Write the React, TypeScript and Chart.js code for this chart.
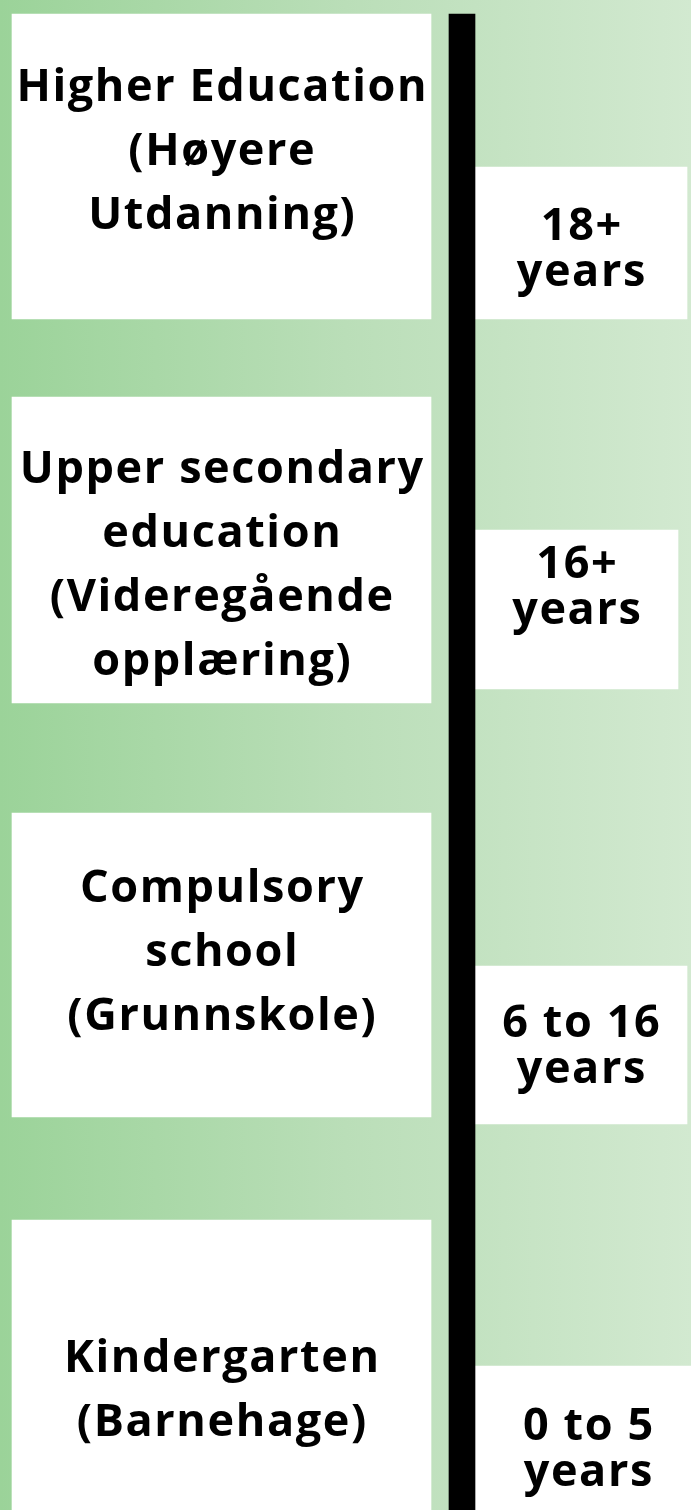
import React, { useEffect, useRef } from "react";
import { Chart, registerables } from "chart.js";

Chart.register(...registerables);

// ---------- data ----------
const stages = ["Higher Education", "Upper secondary education", "Compulsory school", "Kindergarten"];
const stageNative = ["Høyere Utdanning", "Videregående opplæring", "Grunnskole", "Barnehage"];
const stageLines = [
  ["Higher Education", "(Høyere", "Utdanning)"],
  ["Upper secondary", "education", "(Videregående", "opplæring)"],
  ["Compulsory", "school", "(Grunnskole)"],
  ["Kindergarten", "(Barnehage)"],
];
const ageLines = [
  ["18+", "years"],
  ["16+", "years"],
  ["6 to 16", "years"],
  ["0 to 5", "years"],
];
const startAges = [18, 16, 6, 0];

// ---------- layout (pixels of the 691x1510 page) ----------
const W = 691;
const H = 1510;
const LEFT_X: [number, number] = [12, 431];
const LEFT_Y: [number, number][] = [
  [14, 319],
  [397, 703],
  [813, 1117],
  [1220, 1540],
];
const LEFT_BASE = [101, 483, 902, 1372];
const LEFT_LINE = 64;
const AXIS_X: [number, number] = [449, 475];
const AXIS_Y: [number, number] = [14, 1540];
const RIGHT_BOX: [number, number, number, number][] = [
  [475, 687, 167, 319],
  [475, 678, 530, 689],
  [475, 687, 966, 1124],
  [475, 701, 1366, 1540],
];
const RIGHT_BASE = [240, 578, 1037, 1440];
const RIGHT_LINE = 46;

const FONT = "bold 45px 'Open Sans', 'Noto Sans', sans-serif";
const LETTER_SPACING = 1.6;

const bgPlugin = {
  id: "bgGradient",
  beforeDraw(chart: any) {
    const { ctx, width, height } = chart;
    const g = ctx.createLinearGradient(0, 0, width, 0);
    g.addColorStop(0, "rgb(155,211,153)");
    g.addColorStop(0.5, "rgb(186,222,184)");
    g.addColorStop(1, "rgb(210,233,208)");
    ctx.save();
    ctx.fillStyle = g;
    ctx.fillRect(0, 0, width, height);
    ctx.restore();
  },
};

const textPlugin = {
  id: "boxText",
  afterDatasetsDraw(chart: any) {
    const { ctx } = chart;
    const yScale = chart.scales.y;
    ctx.save();
    ctx.font = FONT;
    ctx.fillStyle = "#000";
    ctx.textAlign = "center";
    ctx.textBaseline = "alphabetic";
    try {
      (ctx as any).letterSpacing = LETTER_SPACING + "px";
    } catch (e) {}
    const leftMeta = chart.getDatasetMeta(0);
    stageLines.forEach((lines, i) => {
      const el = leftMeta.data[i];
      if (!el) return;
      const cx = el.x + LETTER_SPACING / 2;
      const b0 = yScale.getPixelForValue(LEFT_BASE[i]);
      lines.forEach((ln, j) => ctx.fillText(ln, cx, b0 + j * LEFT_LINE));
    });
    ageLines.forEach((lines, i) => {
      const meta = chart.getDatasetMeta(2 + i);
      const el = meta.data[0];
      if (!el) return;
      const cx = el.x + LETTER_SPACING / 2;
      const b0 = yScale.getPixelForValue(RIGHT_BASE[i]);
      lines.forEach((ln, j) => ctx.fillText(ln, cx, b0 + j * RIGHT_LINE));
    });
    ctx.restore();
  },
};

export default function App() {
  const ref = useRef<HTMLCanvasElement | null>(null);

  useEffect(() => {
    document.body.style.margin = "0";
    const canvas = ref.current;
    if (!canvas) return;

    const datasets: any[] = [
      {
        label: "Stage",
        data: stages.map((_, i) => ({
          x: (LEFT_X[0] + LEFT_X[1]) / 2,
          y: [LEFT_Y[i][0], LEFT_Y[i][1]],
        })),
        backgroundColor: "#ffffff",
        barThickness: LEFT_X[1] - LEFT_X[0],
        grouped: false,
        borderWidth: 0,
      },
      {
        label: "Timeline",
        data: [{ x: (AXIS_X[0] + AXIS_X[1]) / 2, y: [AXIS_Y[0], AXIS_Y[1]] }],
        backgroundColor: "#000000",
        barThickness: AXIS_X[1] - AXIS_X[0],
        grouped: false,
        borderWidth: 0,
      },
      ...ageLines.map((_, i) => ({
        label: "Age " + startAges[i],
        data: [
          {
            x: (RIGHT_BOX[i][0] + RIGHT_BOX[i][1]) / 2,
            y: [RIGHT_BOX[i][2], RIGHT_BOX[i][3]],
          },
        ],
        backgroundColor: "#ffffff",
        barThickness: RIGHT_BOX[i][1] - RIGHT_BOX[i][0],
        grouped: false,
        borderWidth: 0,
      })),
    ];

    const chart = new Chart(canvas, {
      type: "bar",
      data: { datasets },
      options: {
        responsive: false,
        animation: false,
        devicePixelRatio: 1,
        layout: { padding: 0 },
        plugins: {
          legend: { display: false },
          tooltip: { enabled: false },
          title: { display: false },
        },
        scales: {
          x: { type: "linear", min: 0, max: W, offset: false, display: false, grid: { offset: false } },
          y: { type: "linear", min: 0, max: H, reverse: true, display: false },
        },
      } as any,
      plugins: [bgPlugin, textPlugin],
    });

    return () => chart.destroy();
  }, []);

  return (
    <div style={{ width: W, height: H, overflow: "hidden" }}>
      <canvas ref={ref} width={W} height={H} style={{ display: "block", width: W, height: H }} />
    </div>
  );
}
